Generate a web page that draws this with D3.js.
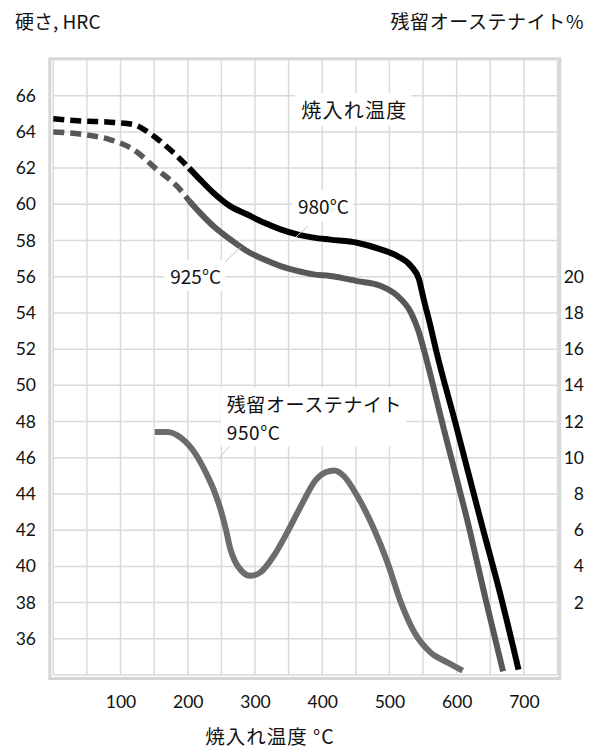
<!DOCTYPE html>
<html><head><meta charset="utf-8">
<script src="https://cdn.jsdelivr.net/npm/d3@7"></script>
<style>
html,body{margin:0;padding:0;background:#fff;}
svg{display:block;}
text{font-family:"Lato","Noto Sans CJK JP",sans-serif;fill:#111;}
.jp{font-family:"Noto Sans CJK JP","Lato",sans-serif;}
</style></head>
<body><svg id="c" width="597" height="751"></svg>
<script>
// ---- data ----
const tempTicks = [100, 200, 300, 400, 500, 600, 700];
const hrcTicks = [36, 38, 40, 42, 44, 46, 48, 50, 52, 54, 56, 58, 60, 62, 64, 66];
const raTicks = [2, 4, 6, 8, 10, 12, 14, 16, 18, 20];

const h980DashT   = [0, 44, 84, 119, 139, 159, 179, 202];
const h980DashHRC = [64.73, 64.6, 64.54, 64.41, 64.04, 63.49, 62.85, 62.0];
const h980T   = [202, 218, 238, 263, 288, 313, 338, 363, 387, 412, 452, 487, 512, 532, 544, 551, 561, 569, 599, 636, 666, 692];
const h980HRC = [62.0, 61.38, 60.64, 59.9, 59.45, 58.99, 58.62, 58.34, 58.16, 58.05, 57.88, 57.51, 57.14, 56.59, 55.86, 54.75, 53.28, 52.0, 47.8, 42.5, 38.3, 34.3];

const h925DashT   = [0, 44, 84, 119, 154, 184, 202];
const h925DashHRC = [64.0, 63.86, 63.58, 63.03, 61.93, 61.0, 60.2];
const h925T   = [202, 218, 238, 263, 288, 313, 338, 363, 387, 412, 452, 487, 512, 532, 544, 551, 581, 619, 643, 669];
const h925HRC = [60.2, 59.54, 58.8, 58.07, 57.42, 56.96, 56.59, 56.32, 56.13, 56.04, 55.76, 55.49, 54.94, 54.02, 52.92, 52.0, 47.58, 42.06, 38.2, 34.2];

const ra950T   = [151, 170, 190, 210, 228, 240, 250, 257, 263, 270, 280, 293, 308, 328, 348, 370, 390, 405, 418, 432, 452, 477, 497, 517, 537, 561, 586, 609];
const ra950Pct = [11.43, 11.43, 11.1, 10.3, 9.1, 8.1, 7.0, 6.0, 5.0, 4.3, 3.75, 3.48, 3.67, 4.59, 5.88, 7.45, 8.75, 9.2, 9.3, 9.0, 7.9, 6.06, 4.22, 2.01, 0.36, -0.75, -1.3, -1.76];

// ---- scales ----
const svg = d3.select("#c");
const x = d3.scaleLinear().domain([0, 750]).range([53.3, 557.5]);
const y = d3.scaleLinear().domain([34, 68]).range([675, 59.5]);
const yR = d3.scaleLinear().domain([-2, 32]).range([675, 59.5]);

// frame
svg.append("rect").attr("x", 49.8).attr("y", 58.8).attr("width", 559.8 - 49.8).attr("height", 678.5 - 58.8)
  .attr("fill", "none").attr("stroke", "#d6d6d6").attr("stroke-width", 3);

// grid
const g = svg.append("g");
g.selectAll("line.v").data(d3.range(0, 751, 50)).join("line")
  .attr("x1", d => x(d)).attr("x2", d => x(d)).attr("y1", y(68)).attr("y2", y(34))
  .attr("stroke", "#dadada").attr("stroke-width", 1.5);
g.selectAll("line.h").data(d3.range(34, 68.1, 2)).join("line")
  .attr("y1", d => y(d)).attr("y2", d => y(d)).attr("x1", x(0)).attr("x2", x(750))
  .attr("stroke", "#dadada").attr("stroke-width", 1.5);

// axes
const fs = 17.5;
const axL = svg.append("g").attr("transform", "translate(36,0)")
  .call(d3.axisLeft(y).tickValues(hrcTicks).tickSize(0).tickPadding(0));
const axR = svg.append("g").attr("transform", "translate(584,0)")
  .call(d3.axisLeft(yR).tickValues(raTicks).tickSize(0).tickPadding(0));
const axB = svg.append("g").attr("transform", "translate(0,696)")
  .call(d3.axisBottom(x).tickValues(tempTicks).tickSize(0).tickPadding(0));
[axL, axR, axB].forEach(a => {
  a.select(".domain").remove();
  a.selectAll("text").attr("font-size", fs).attr("font-family", "Lato,'Noto Sans CJK JP',sans-serif").attr("fill", "#111");
});

// curves
const line = d3.line().x(d => x(d[0])).y(d => y(d[1])).curve(d3.curveMonotoneX);
const lineR = d3.line().x(d => x(d[0])).y(d => yR(d[1])).curve(d3.curveMonotoneX);
const zip = (a, b) => a.map((v, i) => [v, b[i]]);

svg.append("path").attr("d", lineR(zip(ra950T, ra950Pct))).attr("fill", "none")
  .attr("stroke", "#6c6c6e").attr("stroke-width", 6).attr("stroke-linecap", "butt");
svg.append("path").attr("d", line(zip(h925DashT, h925DashHRC))).attr("fill", "none")
  .attr("stroke", "#58585a").attr("stroke-width", 5.5).attr("stroke-dasharray", "11,6");
svg.append("path").attr("d", line(zip(h925T, h925HRC))).attr("fill", "none")
  .attr("stroke", "#58585a").attr("stroke-width", 6);
svg.append("path").attr("d", line(zip(h980DashT, h980DashHRC))).attr("fill", "none")
  .attr("stroke", "#000").attr("stroke-width", 5.5).attr("stroke-dasharray", "11,6");
svg.append("path").attr("d", line(zip(h980T, h980HRC))).attr("fill", "none")
  .attr("stroke", "#000").attr("stroke-width", 6);

// annotations (positions in data units)
function label(lines, tx, hrc, lh, fsz, ls) {
  const grp = svg.append("g");
  const t = grp.append("text").attr("class", "jp").attr("font-size", fsz)
    .attr("letter-spacing", ls).attr("x", x(tx)).attr("y", y(hrc));
  lines.forEach((s, i) => t.append("tspan").attr("x", x(tx)).attr("dy", i ? lh : 0).text(s));
  const b = t.node().getBBox();
  grp.insert("rect", "text").attr("x", b.x - 6).attr("y", b.y - 2).attr("width", b.width + 10).attr("height", b.height + 4)
    .attr("fill", "#fff");
  return grp;
}
function leader(t1, h1, t2, h2) {
  svg.append("line").attr("x1", x(t1)).attr("y1", y(h1)).attr("x2", x(t2)).attr("y2", y(h2))
    .attr("stroke", "#c4c4c4").attr("stroke-width", 1);
}
label(["焼入れ温度"], 369, 64.75, 0, 20, 1.2);
leader(379, 58.8, 361, 58.2);
label(["980°C"], 364, 59.45, 0, 19, 0);
leader(279, 57.65, 255, 56.8);
label(["925°C"], 174, 55.6, 0, 19, 0);
leader(283, 47.5, 246, 45.95);
label(["残留オーステナイト", "950°C"], 258, 48.55, 28, 19, 0.6);

// titles
svg.append("text").attr("class", "jp").attr("x", 15).attr("y", 29).attr("font-size", 19).text("硬さ, HRC");
svg.append("text").attr("class", "jp").attr("x", 584).attr("y", 29).attr("font-size", 19)
  .attr("letter-spacing", 0.6).attr("text-anchor", "end").text("残留オーステナイト%");
svg.append("text").attr("class", "jp").attr("x", 270).attr("y", 744).attr("font-size", 19.5)
  .attr("letter-spacing", 1).attr("text-anchor", "middle").text("焼入れ温度 °C");
</script></body></html>
